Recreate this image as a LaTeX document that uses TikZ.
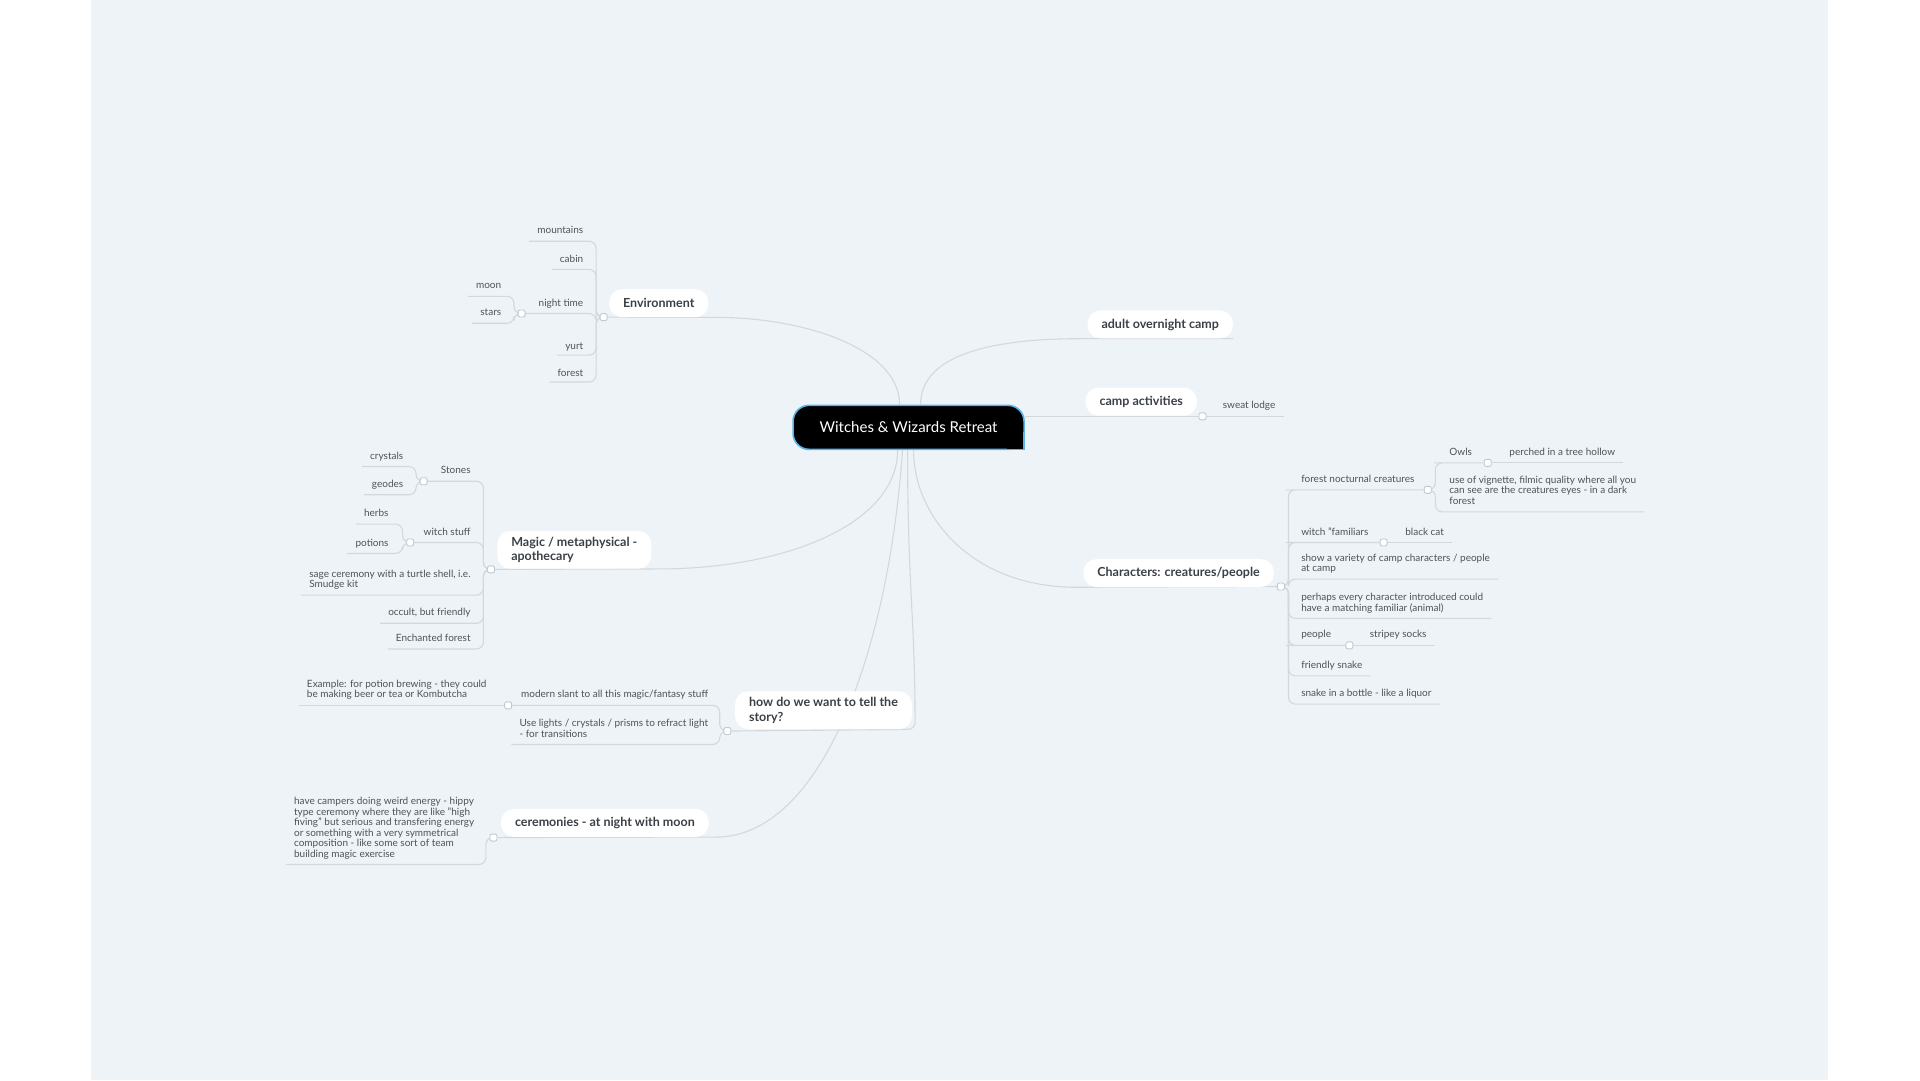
\documentclass[tikz,border=0pt]{standalone}
\usepackage{fontspec}
\setmainfont{Lato}
\usepackage{xcolor}
\usetikzlibrary{backgrounds}
\definecolor{paper}{HTML}{EEF3F7}
\definecolor{wire}{HTML}{D3D8DD}
\definecolor{ink}{HTML}{3B4047}
\definecolor{soft}{HTML}{4E535A}
\definecolor{rim}{HTML}{56B4E9}
\definecolor{knob}{HTML}{C3C8CE}
\tikzset{
  con/.style={draw=wire, line width=1.1pt, rounded corners=7pt},
  topic/.style={fill=white, rounded corners=13pt, text=ink, font=\fontsize{12.5}{14.5}\selectfont\bfseries, inner xsep=14pt, inner ysep=6pt, minimum height=28pt, align=left},
  leaf/.style={text=soft, font=\fontsize{10}{10.5}\selectfont, inner xsep=8pt, inner ysep=4pt, align=left, execute at begin node=\strut, execute at end node=\strut},
  leafl/.style={leaf, anchor=south east},
  leafr/.style={leaf, anchor=south west},
  dot/.style={draw=knob, fill=white, line width=0.9pt, rounded corners=2pt, minimum size=7pt, inner sep=0pt},
  rootbox/.style={fill=black, draw=rim, line width=1.6pt, rounded corners=16pt, text=white, font=\fontsize{15}{17}\selectfont, minimum width=231pt, minimum height=44pt},
}

\begin{document}
\begin{tikzpicture}[x=1.2245pt, y=-1.2245pt]
  \useasboundingbox (0,0) rectangle (1568,882);
  % centre
  \node[rootbox] (root) at (742,349) {Witches \& Wizards Retreat};
  \coordinate (rc) at ([shift={(-0.8pt,0.8pt)}]root.south east);
  \fill[black] ([shift={(-17pt,17pt)}]rc) rectangle (rc);
  \draw[rim, line width=1.6pt] ([yshift=17pt]rc) -- (rc) -- ([xshift=-17pt]rc);

  % main topics
  \node[topic] (env) at (538,247.6) {Environment};
  \node[topic] (camp) at (947.5,265) {adult overnight camp};
  \node[topic] (act) at (932,328) {camp activities};
  \node[topic] (chars) at (962.5,468) {Characters: creatures/people};
  \node[topic] (magic) at (469,449) {Magic / metaphysical -\\apothecary};
  \node[topic] (story) at (672.5,580) {how do we want to tell the\\story?};
  \node[topic] (cere) at (494,672) {ceremonies - at night with moon};

  \node[dot] (envdot) at (493,259) {};
  \node[dot] (actdot) at (982,340) {};
  \node[dot] (charsdot) at (1046,479) {};
  \node[dot] (magicdot) at (401,465) {};
  \node[dot] (storydot) at (594,597) {};
  \node[dot] (ceredot) at (403,684) {};

  % environment
  \node[leafl] (mtn) at (483,197) {mountains};
  \node[leafl] (cabin) at (483,220) {cabin};
  \node[leafl] (night) at (483,256) {night time};
  \node[dot] (nightdot) at (426,256) {};
  \node[leafl] (moon) at (416,242) {moon};
  \node[leafl] (stars) at (416,264) {stars};
  \node[leafl, inner ysep=2.5pt] (yurt) at (483,290) {yurt};
  \node[leafl, inner ysep=2.5pt] (forest) at (483,312) {forest};

  % camp activities
  \node[leafr] (lodge) at (992,340) {sweat lodge};

  % characters
  \node[leafr] (fnc) at (1056,400) {forest nocturnal creatures};
  \node[dot] (fncdot) at (1166,400) {};
  \node[leafr] (owls) at (1177,378) {Owls};
  \node[dot] (owlsdot) at (1215,378) {};
  \node[leafr] (perched) at (1226,378) {perched in a tree hollow};
  \node[leafr] (vignette) at (1177,418) {use of vignette, filmic quality where all you\\can see are the creatures eyes - in a dark\\forest};
  \node[leafr] (familiar) at (1056,443) {witch "familiars};
  \node[dot] (famdot) at (1130,443) {};
  \node[leafr] (blackcat) at (1141,443) {black cat};
  \node[leafr] (variety) at (1056,473) {show a variety of camp characters / people\\at camp};
  \node[leafr] (perhaps) at (1056,505) {perhaps every character introduced could\\have a matching familiar (animal)};
  \node[leafr] (people) at (1056,527) {people};
  \node[dot] (peopledot) at (1102,527) {};
  \node[leafr] (socks) at (1112,527) {stripey socks};
  \node[leafr] (fsnake) at (1056,552) {friendly snake};
  \node[leafr] (bottle) at (1056,575) {snake in a bottle - like a liquor};

  % magic
  \node[leafl] (stones) at (391,393) {Stones};
  \node[dot] (stonedot) at (346,393) {};
  \node[leafl] (crystals) at (336,381) {crystals};
  \node[leafl] (geodes) at (336,404) {geodes};
  \node[leafl] (witch) at (391,443) {witch stuff};
  \node[dot] (witchdot) at (335,443) {};
  \node[leafl] (herbs) at (324,428) {herbs};
  \node[leafl] (potions) at (324,452) {potions};
  \node[leafl] (sage) at (391,486) {sage ceremony with a turtle shell, i.e.\\Smudge kit};
  \node[leafl] (occult) at (391,509) {occult, but friendly};
  \node[leafl] (enchanted) at (391,530) {Enchanted forest};

  % story
  \node[leafl] (slant) at (585,576) {modern slant to all this magic/fantasy stuff};
  \node[dot] (slantdot) at (415,576) {};
  \node[leafl] (example) at (404,576) {Example: for potion brewing - they could\\be making beer or tea or Kombutcha};
  \node[leafl] (lights) at (585,608) {Use lights / crystals / prisms to refract light\\- for transitions};

  % ceremonies
  \node[leafl] (campers) at (394,706) {have campers doing weird energy - hippy\\type ceremony where they are like "high\\fiving" but serious and transfering energy\\or something with a very symmetrical\\composition - like some sort of team\\building magic exercise};

  \begin{scope}[on background layer]
    \fill[white] (0,0) rectangle (1568,882);
    \fill[paper] (74,0) rectangle (1493,882);
    % from the centre
    \draw[con] (envdot.east) -- (env.south east) .. controls +(80,0) and +(0,-45) .. ([xshift=-9pt]root.north);
    \draw[con] ([xshift=12pt]root.north) .. controls +(0,-40) and +(-80,0) .. (camp.south west) -- (camp.south east);
    \draw[con] (root.east |- actdot) -- (actdot.west);
    \draw[con] ([xshift=5pt]root.south) .. controls +(0,55) and +(-90,0) .. (chars.south west) -- (charsdot.west);
    \draw[con] ([xshift=-11pt]root.south) .. controls +(0,60) and +(110,0) .. (magic.south east) -- (magicdot.east);
    \draw[con] ([xshift=-1pt]root.south) .. controls +(0,110) and +(0,-90) .. ([xshift=3pt]story.south east) -- (storydot.east);
    \draw[con] ([xshift=-6pt]root.south) .. controls +(-12,170) and +(90,0) .. (cere.south east) -- (ceredot.east);
    % environment
    \draw[con] (envdot.west) -- ++(-3,0) |- (mtn.south west);
    \draw[con] (envdot.west) -- ++(-3,0) |- (cabin.south west);
    \draw[con] (envdot.west) -- ++(-3,0) |- (night.south west) -- (nightdot.east);
    \draw[con] (nightdot.west) -- ++(-3,0) |- (moon.south west);
    \draw[con] (nightdot.west) -- ++(-3,0) |- (stars.south west);
    \draw[con] (envdot.west) -- ++(-3,0) |- (yurt.south west);
    \draw[con] (envdot.west) -- ++(-3,0) |- (forest.south west);
    % camp activities
    \draw[con] (actdot.east) -- (lodge.south east);
    % characters
    \draw[con] (charsdot.east) -- ++(3,0) |- (fnc.south west) -- (fncdot.west);
    \draw[con] (fncdot.east) -- ++(3,0) |- (owls.south west) -- (owlsdot.west);
    \draw[con] (owlsdot.east) -- (perched.south east);
    \draw[con] (fncdot.east) -- ++(3,0) |- (vignette.south east);
    \draw[con] (charsdot.east) -- ++(3,0) |- (familiar.south west) -- (famdot.west);
    \draw[con] (famdot.east) -- (blackcat.south east);
    \draw[con] (charsdot.east) -- ++(3,0) |- (variety.south east);
    \draw[con] (charsdot.east) -- ++(3,0) |- (perhaps.south east);
    \draw[con] (charsdot.east) -- ++(3,0) |- (people.south west) -- (peopledot.west);
    \draw[con] (peopledot.east) -- (socks.south east);
    \draw[con] (charsdot.east) -- ++(3,0) |- (fsnake.south east);
    \draw[con] (charsdot.east) -- ++(3,0) |- (bottle.south east);
    % magic
    \draw[con] (magicdot.west) -- ++(-3,0) |- (stones.south west) -- (stonedot.east);
    \draw[con] (stonedot.west) -- ++(-3,0) |- (crystals.south west);
    \draw[con] (stonedot.west) -- ++(-3,0) |- (geodes.south west);
    \draw[con] (magicdot.west) -- ++(-3,0) |- (witch.south west) -- (witchdot.east);
    \draw[con] (witchdot.west) -- ++(-3,0) |- (herbs.south west);
    \draw[con] (witchdot.west) -- ++(-3,0) |- (potions.south west);
    \draw[con] (magicdot.west) -- ++(-3,0) |- (sage.south west);
    \draw[con] (magicdot.west) -- ++(-3,0) |- (occult.south west);
    \draw[con] (magicdot.west) -- ++(-3,0) |- (enchanted.south west);
    % story
    \draw[con] (storydot.west) -- ++(-3,0) |- (slant.south west) -- (slantdot.east);
    \draw[con] (slantdot.west) -- (example.south west);
    \draw[con] (storydot.west) -- ++(-3,0) |- (lights.south west);
    % ceremonies
    \draw[con] (ceredot.west) -- ++(-3,0) |- (campers.south west);
  \end{scope}
\end{tikzpicture}
\end{document}
